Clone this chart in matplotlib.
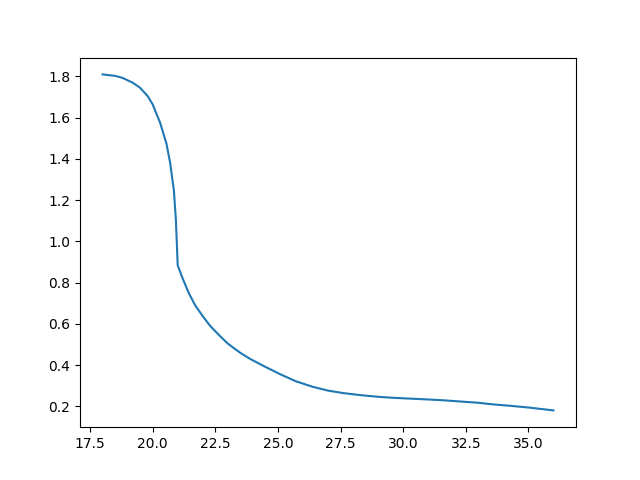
import matplotlib
matplotlib.use('Agg')
import matplotlib.pyplot as plt

# values
x_vals = [18.0, 18.5, 18.8, 19.2, 19.5, 19.8, 20.0, 20.3, 20.55, 20.7, 20.85, 20.93,
          21.0, 21.2, 21.45, 21.7, 22.0, 22.3, 22.7, 23.0, 23.5, 23.9, 24.5, 25.1,
          25.7, 26.4, 27.0, 27.6, 28.3, 29.0, 29.6, 30.3, 31.0, 31.6, 32.3, 33.0,
          33.6, 34.3, 35.0, 35.5, 36.0]
y_vals = [1.81, 1.803, 1.793, 1.77, 1.745, 1.705, 1.665, 1.575, 1.475, 1.38, 1.245, 1.1,
          0.885, 0.82, 0.748, 0.69, 0.638, 0.59, 0.54, 0.505, 0.46, 0.43, 0.392, 0.356,
          0.323, 0.295, 0.277, 0.265, 0.255, 0.247, 0.242, 0.238, 0.234, 0.23, 0.224, 0.218,
          0.21, 0.203, 0.195, 0.188, 0.181]

fig, ax = plt.subplots(figsize=(6.4, 4.8), dpi=100)
ax.plot(x_vals, y_vals)

plt.savefig('out.png')
plt.close()
